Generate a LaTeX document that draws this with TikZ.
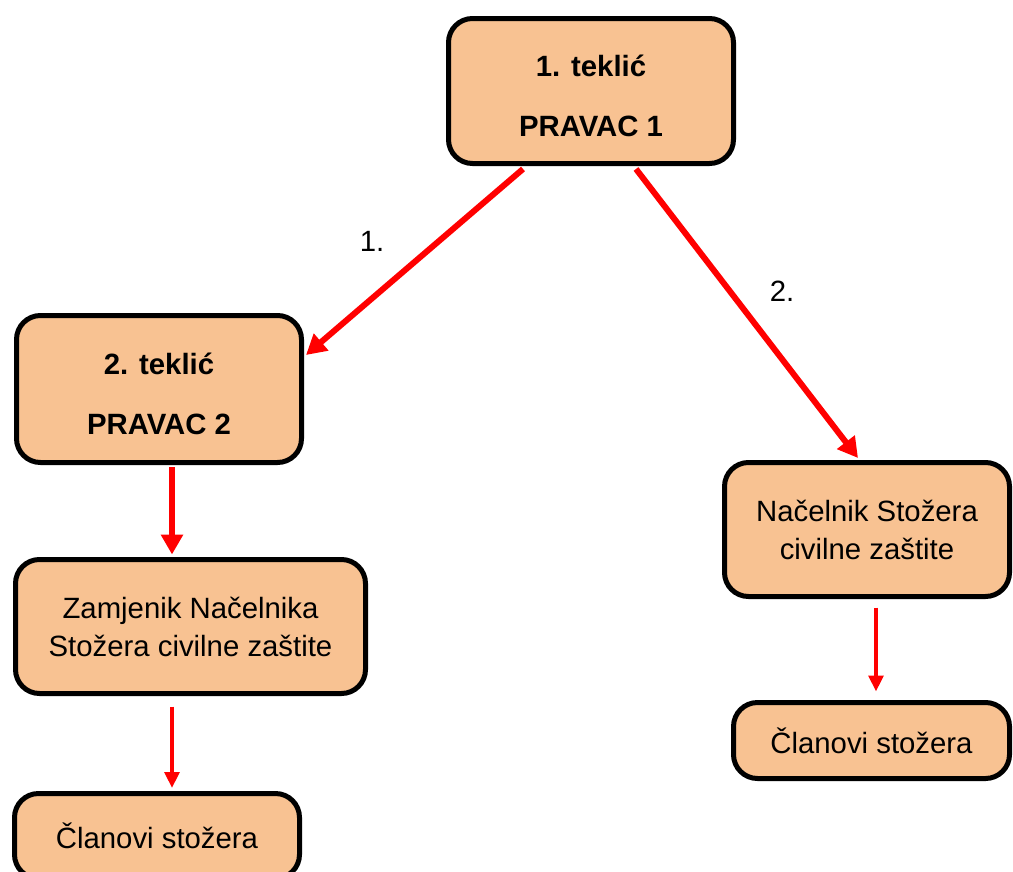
\documentclass[tikz,border=0pt]{standalone}
\usepackage{fontspec}
\setmainfont{Liberation Sans}
\usetikzlibrary{arrows.meta,calc}
\definecolor{boxfill}{RGB}{248,194,146}
\definecolor{arrowred}{RGB}{255,0,0}
\newcommand{\upstrut}{\rule{0pt}{23pt}}

\begin{document}
\begin{tikzpicture}
		[x=0.75pt,y=-0.75pt,
		box/.style={draw=black,line width=3.75pt,fill=boxfill,
			rounded corners=18pt,align=center,inner sep=0pt,
			font=\fontsize{22}{28.5}\selectfont},
		boldbox/.style={box,font=\fontsize{22}{45}\selectfont\bfseries},
		thick arrow/.style={draw=arrowred,line width=4.5pt,
			-{Triangle[length=15pt,width=16pt]}},
		thin arrow/.style={draw=arrowred,line width=3pt,
			-{Triangle[length=12pt,width=11pt]}}]
		\useasboundingbox (0,0) rectangle (1013,871);
		% boxes
		\node[boldbox,minimum width=213.75pt,minimum height=108.75pt] (tek1) at (591,91) {\upstrut 1. teklić\\PRAVAC 1};
		\node[boldbox,minimum width=213.75pt,minimum height=110.25pt] (tek2) at (159,389) {\upstrut 2. teklić\\PRAVAC 2};
		\node[box,minimum width=262.5pt,minimum height=100.5pt] (zam) at (190.5,626.5) {Zamjenik Načelnika\\Stožera civilne zaštite};
		\node[box,minimum width=213.75pt,minimum height=63.75pt] (clan2) at (157,836) {Članovi stožera};
		\node[box,minimum width=213.75pt,minimum height=100.5pt] (nac) at (867,529.5) {Načelnik Stožera\\civilne zaštite};
		\node[box,minimum width=207pt,minimum height=57pt] (clan1) at (871.5,740.5) {Članovi stožera};
		% arrows
		\draw[thick arrow] ($(tek1.south)+(-68,3)$) -- ($(tek2.east)+(2,-34)$);
		\draw[thick arrow] ($(tek1.south)+(45,3)$) -- ($(nac.north)+(-9,-2)$);
		\draw[thick arrow] ($(tek2.south)+(13,2)$) -- ($(zam.north)+(-18.5,-2.5)$);
		\draw[thin arrow] ($(zam.south)+(-18.5,10.5)$) -- ($(clan2.north)+(15,-3)$);
		\draw[thin arrow] ($(nac.south)+(9,8.5)$) -- ($(clan1.north)+(4.5,-8.5)$);
		% labels
		\node[font=\fontsize{22}{28.5}\selectfont] (lab1) at (372,241) {1.};
		\node[font=\fontsize{22}{28.5}\selectfont] (lab2) at (782,291) {2.};
\end{tikzpicture}
\end{document}
